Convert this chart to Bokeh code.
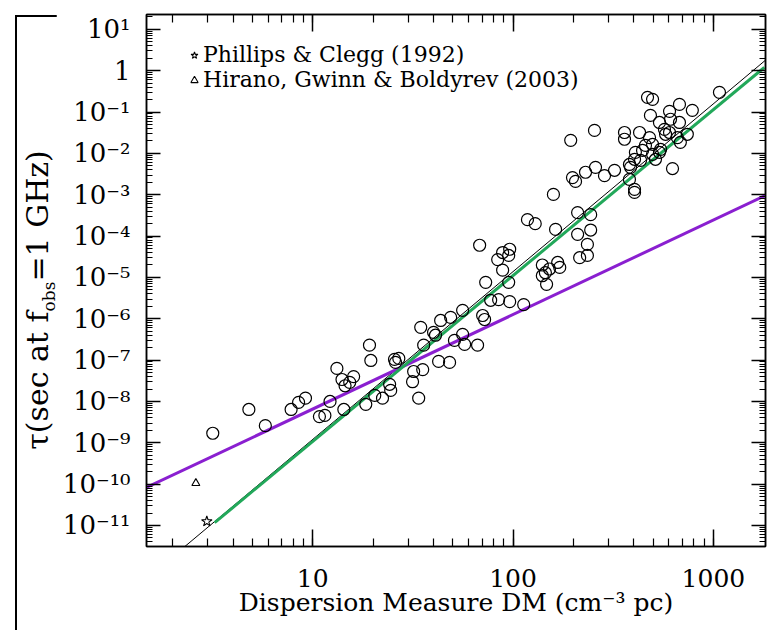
from bokeh.plotting import figure
from bokeh.models import LogAxis, FixedTicker, Range1d, Legend, LegendItem, Div
from bokeh.layouts import row, column
from bokeh.embed import file_html
from bokeh.resources import INLINE

# ---- data ----
dm = [3.17, 4.8, 5.8, 7.8, 8.5, 9.2, 10.8, 11.5, 12.2, 13.2, 14.0, 14.5, 16.0, 15.3, 14.3,
      19.2, 19.5, 18.4, 20.4, 22.3, 24.5, 25.6, 26.9, 25.9, 24.2, 31.5, 31.9, 34.6, 35.8,
      35.4, 40.1, 41.0, 43.5, 33.8, 42.5, 48.8, 48.2, 51.0, 56.0, 56.0, 57.3,
      68.1, 83.8, 88.7, 96.2, 95.1, 88.7, 73.0, 95.1, 77.3, 84.7, 96.2, 113, 70.5, 72.1, 66.5,
      118, 129, 159, 163, 140, 145, 152, 140, 147, 167, 171, 210, 210, 244, 244, 235, 215, 235,
      194, 255, 198, 205, 230, 258, 286, 321, 360, 360, 428, 469, 497, 485, 538, 604, 677,
      785, 1072, 611, 677, 570, 480, 497, 458, 577, 604, 661, 684, 741, 408, 404, 433, 381,
      386, 514, 538, 497, 625, 381, 404, 404, 545, 443]
tau = [1.7e-9, 6.4e-9, 2.6e-9, 6.4e-9, 9.5e-9, 1.2e-8, 4.3e-9, 4.6e-9, 1.0e-8, 6.3e-8, 3.4e-8,
       2.4e-8, 4.0e-8, 2.9e-8, 6.4e-9,
       2.3e-7, 9.8e-8, 8.5e-9, 1.4e-8, 1.2e-8, 1.85e-8, 1.04e-7, 1.1e-7, 8.8e-8, 2.6e-8, 3.0e-8,
       5.3e-8, 6.2e-7, 2.3e-7, 5.9e-8, 4.7e-7, 4.0e-7, 9.1e-7, 1.2e-8, 9.3e-8, 1.08e-6, 8.8e-8,
       3.0e-7, 4.2e-7, 1.6e-6, 2.4e-7,
       6.0e-5, 2.7e-5, 4.0e-5, 4.8e-5, 3.4e-5, 1.5e-5, 7.6e-6, 7.6e-6, 2.8e-6, 2.9e-6, 2.6e-6,
       2.2e-6, 1.2e-6, 9.6e-7, 2.3e-7,
       2.5e-4, 2.0e-4, 1.02e-3, 1.45e-4, 2.0e-5, 1.3e-5, 1.6e-5, 1.1e-5, 6.8e-6, 2.3e-5, 1.75e-5,
       3.7e-4, 1.1e-4, 3.3e-4, 1.4e-4, 6.3e-5, 3.0e-5, 3.4e-5,
       2.07e-2, 3.6e-2, 2.6e-3, 2.1e-3, 3.5e-3, 4.6e-3, 2.9e-3, 3.9e-3, 3.2e-2, 2.2e-2, 3.2e-2,
       0.227, 0.203, 0.083, 0.056, 0.104, 0.153, 0.11, 0.30, 0.067, 0.056, 0.038, 0.024, 0.0166,
       0.0156, 0.029, 0.032, 0.024, 0.0185, 0.029, 0.0106, 7.2e-3, 6.8e-3, 5.4e-3, 4.6e-3,
       7.2e-3, 0.0106, 9.5e-3, 4.3e-3, 2.35e-3, 1.35e-3, 1.14e-3, 0.0125, 0.0118]

pc_dm = [2.96]
pc_tau = [1.25e-11]
hgb_dm = [2.61]
hgb_tau = [1.05e-10]

purple_dm = [1.48, 1820]
purple_tau = [8.3e-11, 9.6e-4]
green_dm = [3.24, 1795]
green_tau = [1.17e-11, 1.2]
black_dm = [2.3, 1820]
black_tau = [3.1e-12, 1.8]

x_ticks = [10, 100, 1000]
x_tick_labels = ["10", "100", "1000"]
y_ticks = [1e-11, 1e-10, 1e-9, 1e-8, 1e-7, 1e-6, 1e-5, 1e-4, 1e-3, 1e-2, 1e-1, 1, 10]
y_tick_labels = ["10⁻¹¹", "10⁻¹⁰", "10⁻⁹", "10⁻⁸", "10⁻⁷", "10⁻⁶", "10⁻⁵", "10⁻⁴",
                 "10⁻³", "10⁻²", "10⁻¹", "1", "10¹"]

legend_labels = ["Phillips & Clegg (1992)", "Hirano, Gwinn & Boldyrev (2003)"]
x_title = "Dispersion Measure DM (cm⁻³ pc)"

XMIN, XMAX = 1.48, 1820
YMIN, YMAX = 3.1e-12, 22.9

x_minor = [m * 10 ** k for k in range(0, 4) for m in range(1, 10) if XMIN <= m * 10 ** k <= XMAX]
y_minor = [m * 10.0 ** k for k in range(-12, 2) for m in range(1, 10) if YMIN <= m * 10.0 ** k <= YMAX]

FONT = "DejaVu Serif"

p = figure(width=713, height=613, x_axis_type="log", y_axis_type="log",
           x_range=Range1d(XMIN, XMAX), y_range=Range1d(YMIN, YMAX),
           output_backend="svg", toolbar_location=None,
           min_border_left=90, min_border_right=4, min_border_top=2, min_border_bottom=79)
p.grid.visible = False
p.outline_line_color = "black"
p.outline_line_width = 1.5
p.background_fill_color = "white"

def style_axis(ax, ticks, minor, major_len, minor_len):
    ax.ticker = FixedTicker(ticks=ticks, minor_ticks=minor)
    ax.axis_line_color = "black"
    ax.axis_line_width = 1.5
    ax.major_tick_line_color = "black"
    ax.minor_tick_line_color = "black"
    ax.major_tick_line_width = 1.5
    ax.minor_tick_line_width = 1.2
    ax.major_tick_in = major_len
    ax.major_tick_out = 0
    ax.minor_tick_in = minor_len
    ax.minor_tick_out = 0

xa = p.xaxis[0]
style_axis(xa, x_ticks, x_minor, 17, 8)
xa.major_label_overrides = {t: l for t, l in zip(x_ticks, x_tick_labels)}
xa.major_label_text_font = FONT
xa.major_label_text_font_size = "25px"
xa.major_label_text_color = "black"
xa.major_label_standoff = 22
xa.axis_label = x_title
xa.axis_label_text_font = FONT
xa.axis_label_text_font_size = "25px"
xa.axis_label_text_font_style = "normal"
xa.axis_label_text_color = "black"
xa.axis_label_standoff = -2

ya = p.yaxis[0]
style_axis(ya, y_ticks, y_minor, 14, 6)
ya.major_label_overrides = {t: l for t, l in zip(y_ticks, y_tick_labels)}
ya.major_label_text_font = FONT
ya.major_label_text_font_size = "26px"
ya.major_label_text_color = "black"
ya.major_label_standoff = 16

top = LogAxis()
style_axis(top, x_ticks, x_minor, 17, 8)
top.major_label_text_font_size = "1px"
top.major_label_text_alpha = 0
top.major_label_standoff = 0
p.add_layout(top, "above")

right = LogAxis()
style_axis(right, y_ticks, y_minor, 14, 6)
right.major_label_text_font_size = "1px"
right.major_label_text_alpha = 0
right.major_label_standoff = 0
p.add_layout(right, "right")

# lines
p.line(black_dm, black_tau, line_color="black", line_width=1)
p.line(purple_dm, purple_tau, line_color="#8a1fd0", line_width=3)
p.line(green_dm, green_tau, line_color="#22a85a", line_width=3)

# data
p.scatter(dm, tau, marker="circle", size=12, fill_color=None, line_color="black", line_width=1.2)
r_star = p.scatter(pc_dm, pc_tau, marker="star", size=11, fill_color=None, line_color="black", line_width=1.1)
r_tri = p.scatter(hgb_dm, hgb_tau, marker="triangle", size=8, fill_color=None, line_color="black", line_width=1.1)

p.add_layout(Legend(items=[LegendItem(label=legend_labels[0], renderers=[r_star]),
                           LegendItem(label=legend_labels[1], renderers=[r_tri])],
                    location=(39, 454), orientation="vertical",
                    background_fill_alpha=0, border_line_alpha=0,
                    label_text_font=FONT, label_text_font_size="22px", label_text_color="black",
                    glyph_width=18, glyph_height=20, label_height=20, label_standoff=0,
                    spacing=0, padding=0, margin=0), "center")

# y-axis title with subscript, as real HTML text
ylab_html = (
    '<div style="position:relative;width:46px;height:613px;">'
    '<div style="position:absolute;left:10px;top:0;width:2px;height:613px;background:black;"></div>'
    '<div style="position:absolute;left:35px;top:283px;transform:translate(-50%,-50%) rotate(-90deg);'
    'white-space:nowrap;font-family:&quot;DejaVu Serif&quot;,serif;font-size:30px;line-height:1;color:black;">'
    'τ(sec at f<sub style="font-size:17px;">obs</sub>=1 GHz)</div></div>'
)
ylab = Div(text=ylab_html, width=46, height=613)
top_html = ('<div style="position:relative;width:759px;height:2px;">'
            '<div style="position:absolute;left:10px;top:0;width:749px;height:2px;background:black;"></div></div>')
top_bar = Div(text=top_html, width=759, height=2)

layout = column(top_bar, row(ylab, p))
open("out.html", "w").write(file_html(layout, INLINE))
